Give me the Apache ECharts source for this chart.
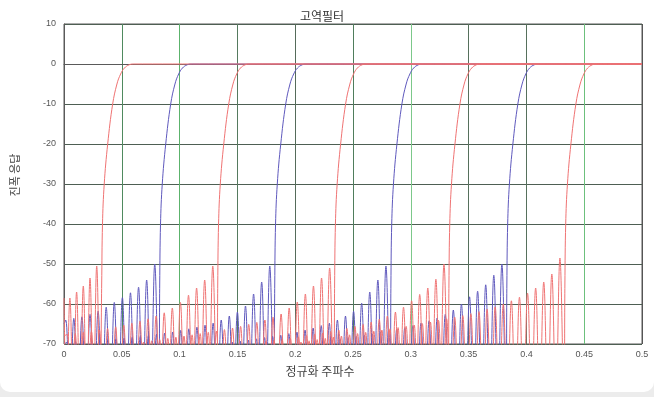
<!DOCTYPE html>
<html>
<head>
<meta charset="utf-8">
<script src="https://cdn.jsdelivr.net/npm/echarts@6/dist/echarts.min.js"></script>
<style>
  html, body { margin: 0; padding: 0; background: #ececec; }
  #card { position: absolute; left: 0; top: 0; width: 654px; height: 392px; background: #fff; border-radius: 0 0 10px 10px; }
  #chart { position: absolute; left: 0; top: 0; width: 654px; height: 397px; }
</style>
</head>
<body>
<div id="card"></div>
<div id="chart"></div>
<script>
// Axis tick labels
const xTickLabels = ['0', '0.05', '0.1', '0.15', '0.2', '0.25', '0.3', '0.35', '0.4', '0.45', '0.5'];
const yTickLabels = ['-70', '-60', '-50', '-40', '-30', '-20', '-10', '0', '10'];

// Magnitude responses [normalized frequency, dB] of the nine high-pass filters
const hp1 = [[0,-58.5],[0.0022,-85],[0.0051,-58.5],[0.0080,-85],[0.0109,-57],[0.0138,-85],[0.0167,-55.5],[0.0196,-85],[0.0225,-53.5],[0.0254,-85],[0.0283,-50.5],[0.0312,-85],
  [0.0326,-55],[0.0333,-40],[0.0348,-30],[0.0378,-20],[0.0421,-10],[0.0458,-5],[0.0490,-2.5],[0.0523,-1],[0.0563,-0.2],[0.0598,0],[0.5,0]];

const hp2 = [[0,-65],[0.0015,-64],[0.0050,-85],[0.0085,-63.6],[0.0120,-85],[0.0155,-63.2],[0.0190,-85],[0.0225,-62.6],[0.0260,-85],[0.0295,-61.8],[0.0330,-85],[0.0365,-60.8],[0.0400,-85],[0.0435,-59.6],[0.0470,-85],[0.0505,-58.4],[0.0540,-85],[0.0575,-57.2],[0.0610,-85],[0.0645,-55.8],[0.0680,-85],[0.0715,-54],[0.0750,-85],[0.0785,-50],[0.0820,-85],
  [0.0828,-55],[0.0835,-40],[0.0850,-30],[0.0880,-20],[0.0923,-10],[0.0960,-5],[0.0992,-2.5],[0.1025,-1],[0.1065,-0.2],[0.1100,0],[0.5,0]];

const hp3 = [[0,-68],[0.0027,-67.6],[0.0062,-85],[0.0097,-67.4],[0.0132,-85],[0.0167,-67.1],[0.0202,-85],[0.0237,-66.8],[0.0272,-85],[0.0307,-66.5],[0.0342,-85],[0.0377,-66.1],[0.0412,-85],[0.0447,-65.7],[0.0482,-85],[0.0517,-65.3],[0.0552,-85],[0.0587,-64.8],[0.0622,-85],[0.0657,-64.3],[0.0692,-85],[0.0727,-63.7],[0.0762,-85],[0.0797,-63],[0.0832,-85],[0.0867,-62.2],[0.0902,-85],[0.0937,-61],[0.0972,-85],[0.1007,-59.6],[0.1042,-85],[0.1077,-57.8],[0.1112,-85],[0.1147,-56],[0.1182,-85],[0.1217,-54],[0.1252,-85],[0.1287,-50.5],[0.1322,-85],
  [0.1330,-55],[0.1337,-40],[0.1352,-30],[0.1382,-20],[0.1425,-10],[0.1462,-5],[0.1494,-2.5],[0.1527,-1],[0.1567,-0.2],[0.1602,0],[0.5,0]];

const hp4 = [[0,-70],[0.0030,-69.5],[0.0065,-85],[0.0100,-69.4],[0.0135,-85],[0.0170,-69.3],[0.0205,-85],[0.0240,-69.2],[0.0275,-85],[0.0310,-69],[0.0345,-85],[0.0380,-68.9],[0.0415,-85],[0.0450,-68.7],[0.0485,-85],[0.0520,-68.5],[0.0555,-85],[0.0590,-68.3],[0.0625,-85],[0.0660,-68.1],[0.0695,-85],[0.0730,-67.9],[0.0765,-85],[0.0800,-67.6],[0.0835,-85],[0.0870,-67.3],[0.0905,-85],[0.0940,-67],[0.0975,-85],[0.1010,-66.6],[0.1045,-85],[0.1080,-66.2],[0.1115,-85],[0.1150,-65.8],[0.1185,-85],[0.1220,-65.3],[0.1255,-85],[0.1290,-64.8],[0.1325,-85],[0.1360,-64],[0.1395,-85],[0.1430,-63],[0.1465,-85],[0.1500,-62],[0.1535,-85],[0.1570,-60.5],[0.1605,-85],[0.1640,-57.5],[0.1675,-85],[0.1710,-54.5],[0.1745,-85],[0.1780,-50.5],[0.1815,-85],
  [0.1823,-55],[0.1830,-40],[0.1845,-30],[0.1875,-20],[0.1918,-10],[0.1955,-5],[0.1987,-2.5],[0.2020,-1],[0.2060,-0.2],[0.2095,0],[0.5,0]];

const hp5 = [[0,-85],[0.0653,-85],[0.0688,-69.5],[0.0723,-85],[0.0758,-69.2],[0.0793,-85],[0.0828,-68.9],[0.0863,-85],[0.0898,-68.6],[0.0933,-85],[0.0968,-68.3],[0.1003,-85],[0.1038,-68],[0.1073,-85],[0.1108,-67.7],[0.1143,-85],[0.1178,-67.4],[0.1213,-85],[0.1248,-67.1],[0.1283,-85],[0.1318,-66.8],[0.1353,-85],[0.1388,-66.4],[0.1423,-85],[0.1458,-66],[0.1493,-85],[0.1528,-65.6],[0.1563,-85],[0.1598,-65.1],[0.1633,-85],[0.1668,-64.6],[0.1703,-85],[0.1738,-64],[0.1773,-85],[0.1808,-63.3],[0.1843,-85],[0.1878,-62.5],[0.1913,-85],[0.1948,-61],[0.1983,-85],[0.2018,-59.5],[0.2053,-85],[0.2088,-57.5],[0.2123,-85],[0.2158,-55.5],[0.2193,-85],[0.2228,-53.5],[0.2263,-85],[0.2298,-51],[0.2333,-85],
  [0.2341,-55],[0.2348,-40],[0.2363,-30],[0.2393,-20],[0.2436,-10],[0.2473,-5],[0.2505,-2.5],[0.2538,-1],[0.2578,-0.2],[0.2613,0],[0.5,0]];

const hp6 = [[0,-85],[0.1420,-85],[0.1455,-69.5],[0.1490,-85],[0.1525,-69.3],[0.1560,-85],[0.1595,-69],[0.1630,-85],[0.1665,-68.7],[0.1700,-85],[0.1735,-68.4],[0.1770,-85],[0.1805,-68.1],[0.1840,-85],[0.1875,-67.8],[0.1910,-85],[0.1945,-67.4],[0.1980,-85],[0.2015,-67],[0.2050,-85],[0.2085,-66.5],[0.2120,-85],[0.2155,-66],[0.2190,-85],[0.2225,-65.4],[0.2260,-85],[0.2295,-64.8],[0.2330,-85],[0.2365,-64],[0.2400,-85],[0.2435,-63],[0.2470,-85],[0.2505,-61.8],[0.2540,-85],[0.2575,-59.8],[0.2610,-85],[0.2645,-57],[0.2680,-85],[0.2715,-54],[0.2750,-85],[0.2785,-50.5],[0.2820,-85],
  [0.2828,-55],[0.2835,-40],[0.2850,-30],[0.2880,-20],[0.2923,-10],[0.2960,-5],[0.2992,-2.5],[0.3025,-1],[0.3065,-0.2],[0.3100,0],[0.5,0]];

const hp7 = [[0,-85],[0.1712,-85],[0.1747,-69.4],[0.1782,-85],[0.1817,-69.1],[0.1852,-85],[0.1887,-68.8],[0.1922,-85],[0.1957,-68.5],[0.1992,-85],[0.2027,-68.2],[0.2062,-85],[0.2097,-67.9],[0.2132,-85],[0.2167,-67.6],[0.2202,-85],[0.2237,-67.3],[0.2272,-85],[0.2307,-66.9],[0.2342,-85],[0.2377,-66.5],[0.2412,-85],[0.2447,-66.1],[0.2482,-85],[0.2517,-65.6],[0.2552,-85],[0.2587,-65.1],[0.2622,-85],[0.2657,-64.5],[0.2692,-85],[0.2727,-63.8],[0.2762,-85],[0.2797,-63],[0.2832,-85],[0.2867,-62],[0.2902,-85],[0.2937,-60.8],[0.2972,-85],[0.3007,-59.2],[0.3042,-85],[0.3077,-57.6],[0.3112,-85],[0.3147,-56],[0.3182,-85],[0.3217,-53.8],[0.3252,-85],[0.3287,-50],[0.3322,-85],
  [0.3330,-55],[0.3337,-40],[0.3352,-30],[0.3382,-20],[0.3425,-10],[0.3462,-5],[0.3494,-2.5],[0.3527,-1],[0.3567,-0.2],[0.3602,0],[0.5,0]];

const hp8 = [[0,-85],[0.2213,-85],[0.2248,-69.3],[0.2283,-85],[0.2318,-69],[0.2353,-85],[0.2388,-68.7],[0.2423,-85],[0.2458,-68.4],[0.2493,-85],[0.2528,-68.1],[0.2563,-85],[0.2598,-67.8],[0.2633,-85],[0.2668,-67.5],[0.2703,-85],[0.2738,-67.1],[0.2773,-85],[0.2808,-66.7],[0.2843,-85],[0.2878,-66.3],[0.2913,-85],[0.2948,-65.9],[0.2983,-85],[0.3018,-65.4],[0.3053,-85],[0.3088,-64.8],[0.3123,-85],[0.3158,-64.2],[0.3193,-85],[0.3228,-63.5],[0.3263,-85],[0.3298,-62.6],[0.3333,-85],[0.3368,-61.5],[0.3403,-85],[0.3438,-60],[0.3473,-85],[0.3508,-58.2],[0.3543,-85],[0.3578,-56.8],[0.3613,-85],[0.3648,-55.2],[0.3683,-85],[0.3718,-52.8],[0.3753,-85],[0.3788,-50],[0.3823,-85],
  [0.3831,-55],[0.3838,-40],[0.3853,-30],[0.3883,-20],[0.3926,-10],[0.3963,-5],[0.3995,-2.5],[0.4028,-1],[0.4068,-0.2],[0.4103,0],[0.5,0]];

const hp9 = [[0,-85],[0.2015,-85],[0.2050,-69.5],[0.2085,-85],[0.2120,-69.2],[0.2155,-85],[0.2190,-68.9],[0.2225,-85],[0.2260,-68.6],[0.2295,-85],[0.2330,-68.3],[0.2365,-85],[0.2400,-68],[0.2435,-85],[0.2470,-67.7],[0.2505,-85],[0.2540,-67.4],[0.2575,-85],[0.2610,-67.1],[0.2645,-85],[0.2680,-66.8],[0.2715,-85],[0.2750,-66.5],[0.2785,-85],[0.2820,-66.2],[0.2855,-85],[0.2890,-65.9],[0.2925,-85],[0.2960,-65.6],[0.2995,-85],[0.3030,-65.3],[0.3065,-85],[0.3100,-64.9],[0.3135,-85],[0.3170,-64.5],[0.3205,-85],[0.3240,-64.1],[0.3275,-85],[0.3310,-63.7],[0.3345,-85],[0.3380,-63.3],[0.3415,-85],[0.3450,-62.9],[0.3485,-85],[0.3520,-62.4],[0.3555,-85],[0.3590,-61.9],[0.3625,-85],[0.3660,-61.3],[0.3695,-85],[0.3730,-60.7],[0.3765,-85],[0.3800,-60],[0.3835,-85],[0.3870,-59.2],[0.3905,-85],[0.3940,-58.3],[0.3975,-85],[0.4010,-57.3],[0.4045,-85],[0.4080,-56],[0.4115,-85],[0.4150,-54.5],[0.4185,-85],[0.4220,-52.5],[0.4255,-85],[0.4290,-48.5],[0.4325,-85],
  [0.4333,-55],[0.4340,-40],[0.4355,-30],[0.4385,-20],[0.4428,-10],[0.4465,-5],[0.4497,-2.5],[0.4530,-1],[0.4570,-0.2],[0.4605,0],[0.5,0]];

const RED = '#ef7373';
const BLUE = '#5f59bd';

// blue responses first so the red ones sit on top
const curves = [
  { data: hp2, color: BLUE }, { data: hp4, color: BLUE }, { data: hp6, color: BLUE }, { data: hp8, color: BLUE },
  { data: hp1, color: RED }, { data: hp3, color: RED }, { data: hp5, color: RED }, { data: hp7, color: RED }, { data: hp9, color: RED }
];

const vGridColors = ['#555', '#4f8a5f', '#5cb36c', '#557a5f', '#556b5a', '#4f7d5c', '#7cc88a', '#56705c', '#56705c', '#6cc07c', '#555'];

const chart = echarts.init(document.getElementById('chart'), null, { renderer: 'canvas' });
chart.setOption({
  animation: false,
  backgroundColor: 'transparent',
  title: {
    text: '고역필터',
    left: 295, top: 5,
    textStyle: { fontSize: 12, fontWeight: 'normal', color: '#333', fontFamily: 'Noto Sans CJK KR' }
  },
  grid: { left: 64, right: 12, top: 24, bottom: 53, show: true, borderColor: '#5a5a5a', borderWidth: 1 },
  xAxis: {
    type: 'value', min: 0, max: 0.5, interval: 0.05,
    name: '정규화 주파수', nameLocation: 'middle', nameGap: 21,
    nameTextStyle: { fontSize: 12, color: '#444', fontFamily: 'Noto Sans CJK KR', padding: [0, 66, 0, 0] },
    axisLine: { show: true, lineStyle: { color: '#5a5a5a', width: 1 } },
    axisTick: { show: false },
    axisLabel: {
      fontSize: 9, color: '#555', margin: 6, fontFamily: 'Liberation Sans',
      formatter: v => xTickLabels[Math.round(v / 0.05)]
    },
    splitLine: { show: true, lineStyle: { color: vGridColors, width: 1 } }
  },
  yAxis: {
    type: 'value', min: -70, max: 10, interval: 10,
    name: '진폭 응답', nameLocation: 'middle', nameGap: 44, nameRotate: 90,
    nameTextStyle: { fontSize: 11, color: '#444', fontFamily: 'Noto Sans CJK KR', padding: [0, 0, 0, 18] },
    axisLine: { show: true, lineStyle: { color: '#5a5a5a', width: 1 } },
    axisTick: { show: false },
    axisLabel: {
      fontSize: 9, color: '#555', margin: 8, fontFamily: 'Liberation Sans',
      formatter: v => yTickLabels[Math.round((v + 70) / 10)]
    },
    splitLine: { show: true, lineStyle: { color: '#4e5f53', width: 1 } }
  },
  series: curves.map(c => ({
    type: 'line',
    data: c.data,
    symbol: 'none',
    clip: true,
    smooth: 0.4,
    lineStyle: { color: c.color, width: 1 },
    itemStyle: { color: c.color }
  }))
});
</script>
</body>
</html>
